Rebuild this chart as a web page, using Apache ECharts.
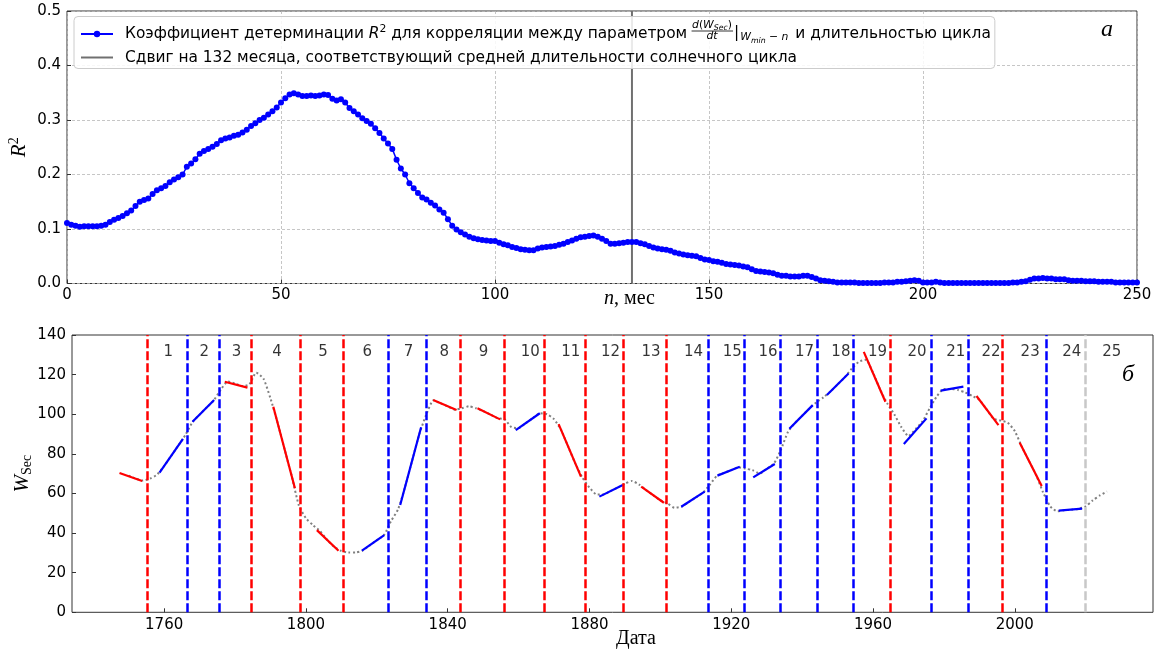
<!DOCTYPE html>
<html>
<head>
<meta charset="utf-8">
<title>R2 и W_Sec</title>
<script src="https://cdn.jsdelivr.net/npm/echarts@6/dist/echarts.min.js"></script>
<style>
  html, body { margin: 0; padding: 0; background: #fff; }
  #chart { width: 1160px; height: 651px; }
</style>
</head>
<body>
<div id="chart"></div>
<script>
// ---------- данные (а): R^2 для сдвига n = 0..250 мес ----------
const r2Values = [
  0.111, 0.108, 0.106, 0.104, 0.105, 0.105, 0.105, 0.105, 0.106, 0.108,
  0.113, 0.117, 0.120, 0.124, 0.129, 0.134, 0.142, 0.150, 0.153, 0.156,
  0.164, 0.171, 0.175, 0.179, 0.186, 0.191, 0.195, 0.200, 0.214, 0.220,
  0.228, 0.238, 0.243, 0.247, 0.251, 0.256, 0.263, 0.266, 0.268, 0.271,
  0.273, 0.277, 0.282, 0.289, 0.294, 0.300, 0.304, 0.310, 0.316, 0.323,
  0.332, 0.340, 0.347, 0.349, 0.347, 0.344, 0.344, 0.345, 0.344, 0.345,
  0.347, 0.346, 0.339, 0.336, 0.338, 0.332, 0.322, 0.316, 0.310, 0.303,
  0.298, 0.293, 0.285, 0.276, 0.266, 0.257, 0.247, 0.227, 0.211, 0.200,
  0.184, 0.175, 0.166, 0.158, 0.154, 0.148, 0.143, 0.136, 0.130, 0.118,
  0.106, 0.099, 0.094, 0.090, 0.086, 0.083, 0.081, 0.080, 0.079, 0.078,
  0.078, 0.075, 0.072, 0.070, 0.067, 0.065, 0.063, 0.062, 0.061, 0.061,
  0.064, 0.066, 0.067, 0.068, 0.069, 0.071, 0.073, 0.076, 0.079, 0.082,
  0.085, 0.086, 0.087, 0.088, 0.086, 0.082, 0.078, 0.073, 0.073, 0.074,
  0.075, 0.076, 0.076, 0.076, 0.074, 0.072, 0.069, 0.066, 0.064, 0.063,
  0.062, 0.060, 0.057, 0.055, 0.053, 0.052, 0.051, 0.050, 0.047, 0.044,
  0.043, 0.041, 0.040, 0.038, 0.036, 0.035, 0.034, 0.033, 0.031, 0.030,
  0.026, 0.023, 0.022, 0.021, 0.020, 0.019, 0.016, 0.014, 0.014, 0.013,
  0.013, 0.013, 0.014, 0.014, 0.012, 0.009, 0.006, 0.005, 0.004, 0.003,
  0.002, 0.002, 0.002, 0.002, 0.002, 0.001, 0.001, 0.001, 0.001, 0.001,
  0.001, 0.002, 0.002, 0.002, 0.003, 0.003, 0.004, 0.005, 0.006, 0.005,
  0.002, 0.002, 0.002, 0.003, 0.002, 0.001, 0.001, 0.001, 0.001, 0.001,
  0.001, 0.001, 0.001, 0.001, 0.001, 0.001, 0.001, 0.001, 0.001, 0.001,
  0.001, 0.002, 0.002, 0.003, 0.004, 0.007, 0.009, 0.009, 0.010, 0.009,
  0.009, 0.008, 0.008, 0.008, 0.006, 0.005, 0.005, 0.005, 0.004, 0.004,
  0.004, 0.003, 0.003, 0.003, 0.003, 0.002, 0.002, 0.002, 0.002, 0.002,
  0.002
];
const shiftMonths = 132;

// ---------- данные (б): W_Sec ----------
const wsecYears = [
  1750, 1752, 1754, 1756, 1758, 1760, 1762, 1764, 1766, 1768, 1770, 1772, 1774, 1776, 1778, 1780,
  1782, 1784, 1786, 1788, 1790, 1792, 1794, 1796, 1798, 1800, 1802, 1804, 1806, 1808, 1810, 1812,
  1814, 1816, 1818, 1820, 1822, 1824, 1826, 1828, 1830, 1832, 1834, 1836, 1838, 1840, 1842, 1844,
  1846, 1848, 1850, 1852, 1854, 1856, 1858, 1860, 1862, 1864, 1866, 1868, 1870, 1872, 1874, 1876,
  1878, 1880, 1882, 1884, 1886, 1888, 1890, 1892, 1894, 1896, 1898, 1900, 1902, 1904, 1906, 1908,
  1910, 1912, 1914, 1916, 1918, 1920, 1922, 1924, 1926, 1928, 1930, 1932, 1934, 1936, 1938, 1940,
  1942, 1944, 1946, 1948, 1950, 1952, 1954, 1956, 1958, 1960, 1962, 1964, 1966, 1968, 1970, 1972,
  1974, 1976, 1978, 1980, 1982, 1984, 1986, 1988, 1990, 1992, 1994, 1996, 1998, 2000, 2002, 2004,
  2006, 2008, 2010, 2012, 2014, 2016, 2018, 2020, 2022, 2024, 2026
];
const wsecValues = [
  69, 67.5, 66.5, 67.5, 69.5, 73.9, 79, 84.2, 89.5, 96, 99.8, 103.4, 107, 112.5, 116.5, 115.5,
  114.2, 115, 121, 118, 108, 95.7, 82.2, 68.7, 54, 47.5, 44, 41, 36.5, 33, 31, 30.2,
  30.2, 31.2, 33.8, 36.4, 38.9, 46, 52, 63.5, 76.8, 90, 100, 107, 105.5, 104, 102.3, 103,
  104, 103, 101.6, 99.9, 98, 97.5, 93.5, 93, 95.5, 98, 100.5, 100, 97.5, 92, 83.6, 75.2,
  68, 63, 59.5, 59.5, 61.3, 63, 65, 66.3, 64.5, 61.6, 59.1, 56.6, 55, 52.8, 53.3, 55.7,
  58, 60.3, 64.5, 69, 70.4, 71.8, 73.2, 72.5, 71.8, 70, 72.5, 75, 82, 91, 95.6, 99.2,
  102.8, 106, 108.5, 111.5, 115, 118.6, 123, 126.5, 127.5, 121, 112.5, 105.5, 100, 93.5, 89, 92.5,
  96.5, 103, 109, 112.8, 112.8, 112.2, 111, 109.2, 107.3, 102.6, 97.8, 96.8, 95.7, 91.5, 83.5, 76.5,
  69.4, 60.5, 53.5, 51, 51.5, 51.8, 52.2, 53.5, 56.5, 59, 61
];

// линейные участки: [год начала, W, год конца, W]
const fitSegments = [
  [1747.4, 70.3, 1753.8, 66.3], [1758.7, 70.5, 1765.3, 87.6], [1768.0, 96.2, 1774.1, 107.2],
  [1777.1, 116.4, 1783.5, 113.4], [1790.8, 103.8, 1796.9, 62.6], [1803.1, 41.5, 1809.2, 31.1],
  [1815.8, 31.1, 1822.1, 39.0], [1826.6, 54.2, 1832.5, 93.4], [1835.9, 107.2, 1842.5, 102.1],
  [1848.4, 103.0, 1854.8, 97.4], [1859.2, 92.0, 1866.0, 100.5], [1871.3, 95.0, 1877.6, 68.5],
  [1882.8, 58.4, 1889.4, 64.3], [1894.6, 63.4, 1901.0, 55.3], [1905.9, 53.3, 1912.5, 60.9],
  [1916.1, 69.0, 1922.4, 73.5], [1926.2, 68.1, 1932.3, 74.9], [1936.4, 92.7, 1943.0, 104.6],
  [1947.0, 109.7, 1953.1, 120.6], [1957.4, 131.5, 1963.5, 106.3], [1968.7, 85.0, 1975.1, 97.9],
  [1979.1, 111.9, 1985.5, 113.9], [1989.2, 109.2, 1995.4, 94.5], [2001.4, 85.6, 2007.6, 63.8],
  [2012.4, 51.3, 2019.0, 52.3]
];

// минимумы циклов и тип линии
const cycleMinima = [
  1755.2, 1766.5, 1775.5, 1784.7, 1798.3, 1810.6, 1823.3, 1833.9, 1843.5, 1856.0, 1867.2, 1878.9, 1889.6,
  1901.7, 1913.6, 1923.6, 1933.8, 1944.2, 1954.3, 1964.9, 1976.5, 1986.8, 1996.4, 2008.9, 2019.9
];
const minimaPhase = [
  'down', 'up', 'up', 'down', 'down', 'down', 'up', 'up', 'down', 'down', 'down', 'down', 'down',
  'down', 'up', 'up', 'up', 'up', 'up', 'down', 'up', 'up', 'down', 'up', 'now'
];
const cycleNumbers = [1, 2, 3, 4, 5, 6, 7, 8, 9, 10, 11, 12, 13, 14, 15, 16, 17, 18, 19, 20, 21, 22, 23, 24, 25];
const yearTicks = [1760, 1800, 1840, 1880, 1920, 1960, 2000];

// ---------- оформление ----------
const SANS = 'DejaVu Sans';
const SERIF = 'Liberation Serif';
const FS = 15.4;      // шрифт легенды
const FSM = 10.8;     // шрифт формулы
const FSS = 7.8;      // индексы формулы
const phaseColor = { down: '#ff0000', up: '#0000ff', now: '#c8c8c8' };
const LAST_CYCLE_LEN = 11.5;
const LABEL_Y = 131.5;

const NAME_R2 = 'Коэффициент детерминации R2 для корреляции между параметром dW/dt и длительностью цикла';
const NAME_SHIFT = 'Сдвиг на 132 месяца, соответствующий средней длительности солнечного цикла';

const mctx = document.createElement('canvas').getContext('2d');
function tw(str, size, italic) {
  mctx.font = (italic ? 'italic ' : '') + size + 'px ' + SANS;
  return mctx.measureText(str).width;
}

// геометрия легенды: две строки, общая рамка
const LEG = { boxX: 74, boxY: 16.5, iconX: 80, iconW: 32, iconH: 8, textPad: 7, row1: 32.5, row2: 56 };
const ROW1_FIX = 4.5, ROW2_FIX = 2;   // поправка положения текста строк
const textX0 = LEG.iconX + LEG.iconW + 5 + LEG.textPad;
const row1C = LEG.row1;

const part1 = 'Коэффициент детерминации ';
const part2 = ' для корреляции между параметром ';
const part3 = ' и длительностью цикла';
const gapX = textX0 + tw(part1, FS) + tw('R', FS, true) + tw('2', FSM) + tw(part2, FS);

const numW = tw('d', FSM, true) + tw('(', FSM) + tw('W', FSM, true) + tw('Sec', FSS, true) + tw(')', FSM);
const denW = tw('dt', FSM, true);
const fracW = Math.max(numW, denW) + 2;
const pipeX = gapX + fracW + 1;
const pipeW = tw('|', FS);
const subX = pipeX + pipeW + 1;
const subW = tw('W', FSM, true) + tw('min', FSS, true) + tw(' − ', FSM) + tw('n', FSM, true);
const gapW = subX + subW + 1 - gapX;
const row1End = gapX + gapW + tw(part3, FS);
const boxW = row1End + 5 - LEG.boxX;
const boxH = 52;

const mathRich = {
  i: { fontFamily: SANS, fontSize: FSM, fontStyle: 'italic', color: '#000', lineHeight: 14 },
  n: { fontFamily: SANS, fontSize: FSM, color: '#000', lineHeight: 14 },
  s: { fontFamily: SANS, fontSize: FSS, fontStyle: 'italic', color: '#000', lineHeight: 14, verticalAlign: 'bottom' }
};

const legendRich = {
  t: { fontFamily: SANS, fontSize: FS, color: '#000', lineHeight: 20 },
  ri: { fontFamily: SANS, fontSize: FS, fontStyle: 'italic', color: '#000', lineHeight: 20 },
  sup: { fontFamily: SANS, fontSize: FSM, color: '#000', lineHeight: 18, verticalAlign: 'top' },
  gap: { width: gapW, lineHeight: 20 }
};

const mid = (i) => i + 1 < cycleMinima.length
  ? (cycleMinima[i] + cycleMinima[i + 1]) / 2
  : cycleMinima[i] + LAST_CYCLE_LEN / 2;

const legendBase = {
  orient: 'vertical', left: LEG.iconX, padding: 0, itemGap: 0,
  itemWidth: LEG.iconW, itemHeight: LEG.iconH, selectedMode: false, z: 6,
  textStyle: { padding: [0, 0, 0, LEG.textPad], rich: legendRich }
};

const tickStyle = { show: true, inside: true, length: 4, lineStyle: { color: '#333' } };

const chart = echarts.init(document.getElementById('chart'));

const option = {
  animation: false,
  backgroundColor: '#fff',
  textStyle: { fontFamily: SANS },
  grid: [
    { left: 67, right: 23, top: 11, bottom: 367.5, show: true, borderColor: '#333', borderWidth: 1,
      backgroundColor: 'transparent', outerBoundsMode: 'none', containLabel: false },
    { left: 72, right: 7, top: 335, bottom: 38.7, show: true, borderColor: '#333', borderWidth: 1,
      backgroundColor: 'transparent', outerBoundsMode: 'none', containLabel: false }
  ],
  legend: [
    Object.assign({}, legendBase, {
      top: LEG.row1 - LEG.iconH / 2 - ROW1_FIX,
      data: [NAME_R2],
      formatter: () => '{t|' + part1 + '}{ri|R}{sup|2}{t|' + part2 + '}{gap| }{t|' + part3 + '}'
    }),
    Object.assign({}, legendBase, {
      top: LEG.row2 - LEG.iconH / 2 - ROW2_FIX,
      data: [{ name: NAME_SHIFT, itemStyle: { opacity: 0 } }],
      formatter: (name) => '{t|' + name + '}'
    })
  ],
  xAxis: [
    {
      type: 'value', gridIndex: 0, min: 0, max: 250, interval: 50,
      name: '{i|n}{t|, мес}', nameLocation: 'middle', nameGap: 5, nameMoveOverlap: false,
      nameTextStyle: {
        padding: [0, 0, 0, 55],
        rich: {
          i: { fontFamily: SERIF, fontSize: 20, fontStyle: 'italic', color: '#000' },
          t: { fontFamily: SERIF, fontSize: 20, color: '#000' }
        }
      },
      axisLine: { show: false },
      axisTick: tickStyle,
      axisLabel: { margin: 4, fontSize: 15, color: '#000', fontFamily: SANS },
      splitLine: { show: true, lineStyle: { color: '#b8b8b8', type: [3, 2], width: 0.8 } }
    },
    {
      type: 'value', gridIndex: 1, min: 1734, max: 2039,
      name: 'Дата', nameLocation: 'middle', nameGap: 16, nameMoveOverlap: false,
      nameTextStyle: { fontFamily: SERIF, fontSize: 20, color: '#000', padding: [0, 0, 0, 47] },
      axisLine: { show: false },
      axisTick: Object.assign({}, tickStyle, { customValues: yearTicks }),
      axisLabel: { margin: 5, fontSize: 15, color: '#000', fontFamily: SANS, customValues: yearTicks,
        formatter: (v) => String(v) },
      splitLine: { show: false }
    }
  ],
  yAxis: [
    {
      type: 'value', gridIndex: 0, min: 0, max: 0.5, interval: 0.1,
      name: '{ri|R}{sup|2}', nameLocation: 'middle', nameRotate: 90, nameGap: 36, nameMoveOverlap: false,
      nameTextStyle: {
        rich: {
          ri: { fontFamily: SERIF, fontSize: 21, fontStyle: 'italic', color: '#000', lineHeight: 24 },
          sup: { fontFamily: SERIF, fontSize: 14, color: '#000', lineHeight: 16, verticalAlign: 'top' }
        }
      },
      axisLine: { show: false },
      axisTick: tickStyle,
      axisLabel: { margin: 6, fontSize: 15, color: '#000', fontFamily: SANS, formatter: (v) => v.toFixed(1) },
      splitLine: { show: true, lineStyle: { color: '#b8b8b8', type: [3, 2], width: 0.8 } }
    },
    {
      type: 'value', gridIndex: 1, min: 0, max: 140, interval: 20,
      name: '{w|W}{s|Sec}', nameLocation: 'middle', nameRotate: 90, nameGap: 38, nameMoveOverlap: false,
      nameTextStyle: {
        rich: {
          w: { fontFamily: SERIF, fontSize: 21, fontStyle: 'italic', color: '#000', lineHeight: 24 },
          s: { fontFamily: SERIF, fontSize: 14, color: '#000', lineHeight: 18, verticalAlign: 'bottom' }
        }
      },
      axisLine: { show: false },
      axisTick: tickStyle,
      axisLabel: { margin: 6, fontSize: 15, color: '#000', fontFamily: SANS },
      splitLine: { show: false }
    }
  ],
  series: [
    {
      name: NAME_R2, type: 'line', xAxisIndex: 0, yAxisIndex: 0, z: 3,
      data: r2Values.map((v, n) => [n, v]),
      symbol: 'circle', symbolSize: 6, showAllSymbol: true,
      itemStyle: { color: '#0000ff' },
      lineStyle: { color: '#0000ff', width: 1.5 }
    },
    {
      name: NAME_SHIFT, type: 'line', xAxisIndex: 0, yAxisIndex: 0, z: 2,
      data: [[shiftMonths, 0], [shiftMonths, 0.5]],
      symbol: 'none', itemStyle: { color: '#707070' },
      lineStyle: { color: '#707070', width: 2 }
    },
    {
      name: 'minima', type: 'line', xAxisIndex: 1, yAxisIndex: 1, z: 1, data: [],
      markLine: {
        silent: true, symbol: ['none', 'none'], label: { show: false },
        data: cycleMinima.map((yr, i) => ({
          xAxis: yr,
          lineStyle: { color: phaseColor[minimaPhase[i]], type: [9, 3], width: 2.5 }
        }))
      }
    },
    {
      name: 'W_Sec', type: 'line', xAxisIndex: 1, yAxisIndex: 1, z: 2,
      data: wsecYears.map((y, i) => [y, wsecValues[i]]),
      symbol: 'none', smooth: 0.2,
      lineStyle: { color: '#808080', width: 2, type: [2, 2.5] }
    },
    {
      name: 'fits', type: 'lines', coordinateSystem: 'cartesian2d', xAxisIndex: 1, yAxisIndex: 1, z: 3,
      data: fitSegments.map((s) => ({
        coords: [[s[0], s[1]], [s[2], s[3]]],
        lineStyle: { color: s[3] < s[1] ? '#ff0000' : '#0000ff' }
      })),
      lineStyle: { width: 2.2, opacity: 1, curveness: 0 }
    },
    {
      name: 'cycles', type: 'scatter', xAxisIndex: 1, yAxisIndex: 1, z: 4,
      data: cycleNumbers.map((c, i) => [mid(i) - 1, LABEL_Y, c]),
      symbolSize: 1, itemStyle: { color: 'rgba(0,0,0,0)' },
      label: {
        show: true, position: 'inside', align: 'left', verticalAlign: 'middle',
        fontSize: 15, color: '#000', fontFamily: SANS,
        formatter: (p) => String(p.value[2])
      }
    }
  ],
  graphic: [
    {
      type: 'rect', z: 5,
      shape: { x: LEG.boxX, y: LEG.boxY, width: boxW, height: boxH, r: 4 },
      style: { fill: 'rgba(255,255,255,0.85)', stroke: '#cccccc', lineWidth: 1 }
    },
    {
      type: 'text', x: gapX + fracW / 2, y: row1C - 7.5, z: 100,
      style: { text: '{i|d}{n|(}{i|W}{s|Sec}{n|)}', rich: mathRich, align: 'center', verticalAlign: 'middle', textAlign: 'center', textVerticalAlign: 'middle' }
    },
    {
      type: 'line', z: 100,
      shape: { x1: gapX + 0.5, y1: row1C - 1.5, x2: gapX + fracW, y2: row1C - 1.5 },
      style: { stroke: '#000', lineWidth: 0.8 }
    },
    {
      type: 'text', x: gapX + fracW / 2, y: row1C + 4, z: 100,
      style: { text: '{i|dt}', rich: mathRich, align: 'center', verticalAlign: 'middle', textAlign: 'center', textVerticalAlign: 'middle' }
    },
    {
      type: 'text', x: pipeX, y: row1C, z: 100,
      style: { text: '|', fill: '#000', font: FS + 'px ' + SANS, align: 'left', verticalAlign: 'middle', textAlign: 'left', textVerticalAlign: 'middle' }
    },
    {
      type: 'text', x: subX, y: row1C + 5, z: 100,
      style: { text: '{i|W}{s|min}{n| − }{i|n}', rich: mathRich, align: 'left', verticalAlign: 'middle', textAlign: 'left', textVerticalAlign: 'middle' }
    },
    {
      type: 'text', x: 1107, y: 30, z: 100,
      style: { text: 'а', fill: '#000', font: 'italic 24px ' + SERIF, align: 'center', verticalAlign: 'middle', textAlign: 'center', textVerticalAlign: 'middle' }
    },
    {
      type: 'text', x: 1128, y: 375, z: 100,
      style: { text: 'б', fill: '#000', font: 'italic 24px ' + SERIF, align: 'center', verticalAlign: 'middle', textAlign: 'center', textVerticalAlign: 'middle' }
    }
  ]
};

chart.setOption(option);
</script>
</body>
</html>
